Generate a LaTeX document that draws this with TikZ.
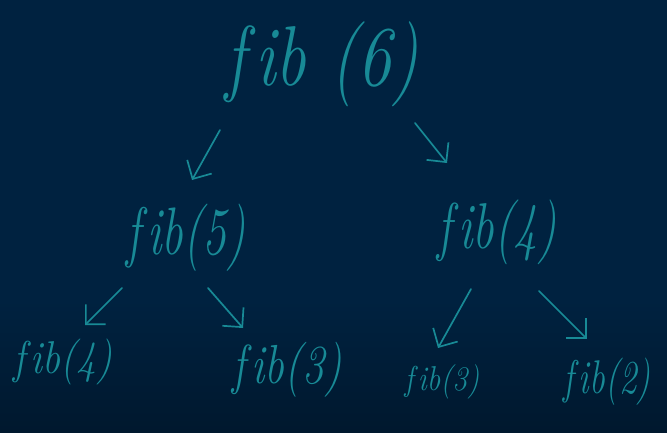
\documentclass[tikz,border=0pt]{standalone}
\usepackage{tikz}
\usetikzlibrary{arrows.meta, calc}

\definecolor{board}{RGB}{0,34,64}
\definecolor{boardlow}{RGB}{0,24,46}
\definecolor{chalk}{RGB}{24,138,150}

% size, vertical stretch, argument
\newcommand{\fibcall}[3]{\fontsize{#1}{#1}\selectfont\scalebox{1}[#2]{f\/ib#3}}

\tikzset{
  call/.style={text=chalk, inner sep=0pt, font=\itshape},
  arw/.style={draw=chalk, line width=1.7pt, line cap=round, line join=round,
    -{Straight Barb[length=14pt, width=28pt, line width=1.7pt]}},
}

\begin{document}
\begin{tikzpicture}[x=1pt, y=-1pt]
        \fill[board] (0,0) rectangle (667,432);
        \shade[top color=board, bottom color=boardlow] (0,300) rectangle (667,432);
        \useasboundingbox (0,0) rectangle (667,432);

        \node[call] (f6) at (322,64) {\fibcall{68}{1.25}{ (6)}};
        \node[call] (f5) at (186,238) {\fibcall{48}{1.4}{(5)}};
        \node[call] (f4) at (497,232) {\fibcall{48}{1.35}{(4)}};
        \node[call] (f4b) at (63,362) {\fibcall{40}{1.15}{(4)}};
        \node[call] (f3a) at (287,370) {\fibcall{44}{1.25}{(3)}};
        \node[call] (f3b) at (442,382) {\fibcall{30}{1.15}{(3)}};
        \node[call] (f2) at (607,382) {\fibcall{35}{1.35}{(2)}};

        % arrows, hand placed between the calls
        \draw[arw] ($(f6)+(-102,66)$) -- ($(f5)+(6,-58)$);
        \draw[arw] ($(f6)+(93,59)$) -- ($(f4)+(-50,-69)$);
        \draw[arw] ($(f5)+(-64,50)$) -- ($(f4b)+(22,-37)$);
        \draw[arw] ($(f5)+(22,50)$) -- ($(f3a)+(-44,-42)$);
        \draw[arw] ($(f4)+(-26,57)$) -- ($(f3b)+(-4,-34)$);
        \draw[arw] ($(f4)+(42,59)$) -- ($(f2)+(-20,-43)$);
      \end{tikzpicture}
\end{document}
